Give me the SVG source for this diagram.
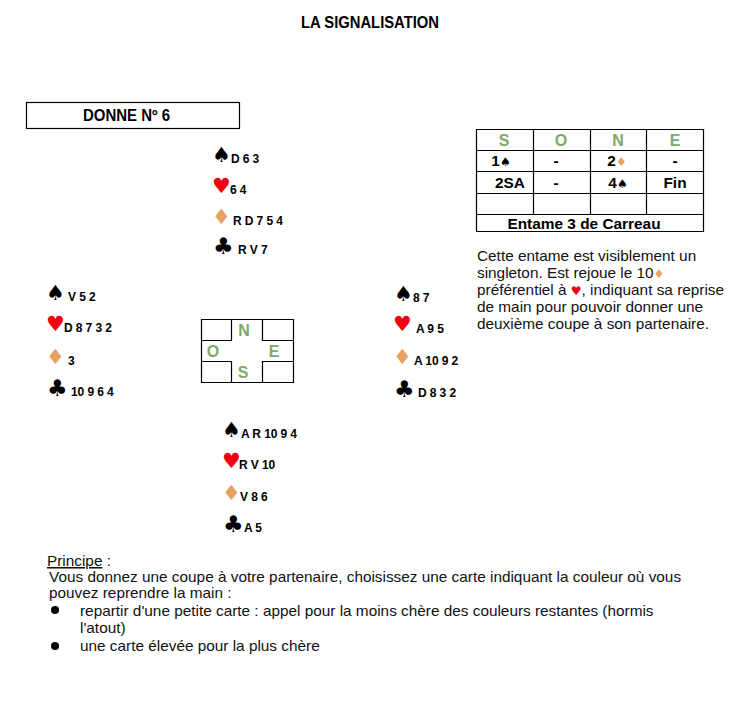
<svg xmlns="http://www.w3.org/2000/svg" width="739" height="728" viewBox="0 0 739 728">
<style>
text{font-family:"Liberation Sans",Arial,sans-serif;fill:#000}
.b{font-weight:bold}
.c{font-size:12px;font-weight:bold;letter-spacing:-.1px}
.s{font-family:"DejaVu Sans",sans-serif;font-size:21px}
.k{font-family:"DejaVu Sans",sans-serif;font-size:23px}
.h{font-family:"DejaVu Sans",sans-serif;font-size:21px;fill:#f00010}
.r{fill:#f00010}
.d{fill:#e8a060}
.g{fill:#7fa868;font-weight:bold;font-size:16px;text-anchor:middle}
.t{font-size:15.4px;font-weight:bold;text-anchor:middle}
.p{font-size:15.35px;fill:#111}
.ln{stroke:#000;stroke-width:1.2;fill:none}
.i{font-family:"DejaVu Sans",sans-serif;font-size:12px}
</style>
<rect width="739" height="728" fill="#fff"/>
<text id="title" class="b" x="370" y="28" font-size="16" text-anchor="middle" textLength="138" lengthAdjust="spacingAndGlyphs">LA SIGNALISATION</text>
<g id="donne">
<rect class="ln" x="26.5" y="102.5" width="213" height="26"/>
<text class="b" x="83" y="121" font-size="16" textLength="87" lengthAdjust="spacingAndGlyphs">DONNE Nº 6</text>
</g>
<g id="hand-nord">
<text class="s" x="212" y="162">♠</text><text class="c" x="231" y="163">D 6 3</text>
<text class="h" x="212" y="193">♥</text><text class="c" x="230" y="194">6 4</text>
<text class="s d" x="212" y="224">♦</text><text class="c" x="233" y="225">R D 7 5 4</text>
<text class="k" x="213" y="254">♣</text><text class="c" x="238" y="254">R V 7</text>
</g>
<g id="hand-ouest">
<text class="s" x="46" y="300">♠</text><text class="c" x="68" y="301">V 5 2</text>
<text class="h" x="46" y="331">♥</text><text class="c" x="64" y="332">D 8 7 3 2</text>
<text class="s d" x="46" y="364">♦</text><text class="c" x="68" y="365">3</text>
<text class="k" x="47" y="396">♣</text><text class="c" x="71" y="396">10 9 6 4</text>
</g>
<g id="hand-est">
<text class="s" x="394" y="301">♠</text><text class="c" x="413" y="302">8 7</text>
<text class="h" x="393" y="331">♥</text><text class="c" x="416" y="333">A 9 5</text>
<text class="s d" x="393" y="364">♦</text><text class="c" x="414" y="365">A 10 9 2</text>
<text class="k" x="394" y="397">♣</text><text class="c" x="418" y="397">D 8 3 2</text>
</g>
<g id="hand-sud">
<text class="s" x="222" y="437">♠</text><text class="c" x="241" y="438">A R 10 9 4</text>
<text class="h" x="222" y="468">♥</text><text class="c" x="239" y="469">R V 10</text>
<text class="s d" x="222" y="500">♦</text><text class="c" x="240" y="501">V 8 6</text>
<text class="k" x="223" y="532">♣</text><text class="c" x="244" y="532">A 5</text>
</g>
<g id="rose">
<path class="ln" d="M201.5 319.5H293.5V382.5H201.5ZM231.5 319.5V340.5H201.5M262.5 319.5V340.5H293.5M201.5 361.5H231.5V382.5M293.5 361.5H262.5V382.5"/>
<text class="g" x="244" y="336">N</text>
<text class="g" x="213" y="357">O</text>
<text class="g" x="274" y="357">E</text>
<text class="g" x="243" y="378">S</text>
</g>
<g id="encheres">
<path class="ln" d="M476.5 129.5H703.5V231.5H476.5ZM476.5 150.5H703.5M476.5 171.5H703.5M476.5 193.5H703.5M476.5 214.5H703.5M533.5 129.5V214.5M590.5 129.5V214.5M646.5 129.5V214.5"/>
<text class="g" x="504" y="146">S</text>
<text class="g" x="561" y="146">O</text>
<text class="g" x="618" y="146">N</text>
<text class="g" x="675" y="146">E</text>
<text class="t" x="501" y="166" font-size="14">1<tspan class="i">♠</tspan></text>
<text class="t" x="556" y="166">-</text>
<text class="t" x="617" y="166">2<tspan class="i d">♦</tspan></text>
<text class="t" x="675" y="166">-</text>
<text class="t" x="510" y="188">2SA</text>
<text class="t" x="556" y="188">-</text>
<text class="t" x="618" y="188">4<tspan class="i">♠</tspan></text>
<text class="t" x="675" y="188">Fin</text>
<text class="t" x="584" y="229">Entame 3 de Carreau</text>
</g>
<g id="commentaire">
<text class="p" x="477" y="261">Cette entame est visiblement un</text>
<text class="p" x="477" y="278">singleton. Est rejoue le 10<tspan class="i d">♦</tspan></text>
<text class="p" x="477" y="295">préférentiel à <tspan class="i r">♥</tspan>, indiquant sa reprise</text>
<text class="p" x="477" y="312">de main pour pouvoir donner une</text>
<text class="p" x="477" y="329">deuxième coupe à son partenaire.</text>
</g>
<g id="principe">
<text class="p" x="47" y="566"><tspan text-decoration="underline">Principe</tspan> :</text>
<text class="p" x="49" y="582">Vous donnez une coupe à votre partenaire, choisissez une carte indiquant la couleur où vous</text>
<text class="p" x="49" y="598">pouvez reprendre la main :</text>
<circle cx="55" cy="610" r="4"/>
<text class="p" x="80" y="616">repartir d'une petite carte : appel pour la moins chère des couleurs restantes (hormis</text>
<text class="p" x="80" y="633">l'atout)</text>
<circle cx="55" cy="646" r="4"/>
<text class="p" x="80" y="651">une carte élevée pour la plus chère</text>
</g>
</svg>
